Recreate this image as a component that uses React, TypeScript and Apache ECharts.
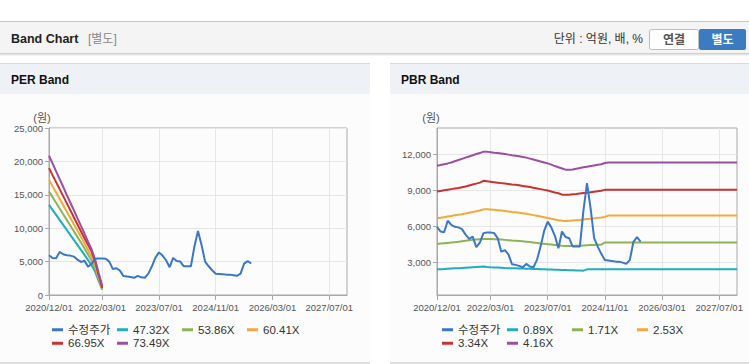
import React, { useEffect, useRef } from "react";
import * as echarts from "echarts";

// ---- categories (monthly, 2020/12 .. 2027/12) ----
const months: string[] = (() => {
  const out: string[] = [];
  let y = 2020, m = 12;
  while (y < 2027 || (y === 2027 && m <= 12)) {
    out.push(`${y}/${String(m).padStart(2, "0")}/01`);
    m++;
    if (m > 12) { m = 1; y++; }
  }
  return out;
})();

const xTickLabels = ["2020/12/01", "2022/03/01", "2023/07/01", "2024/11/01", "2026/03/01", "2027/07/01"];

// ---- adjusted price (수정주가), monthly 2020/12 .. 2025/09 ----
const price = [
  5950, 5550, 5500, 6450, 6100, 5950, 5900, 5750, 5300, 4950,
  5130, 4250, 4640, 5420, 5480, 5480, 5420, 5000, 3880, 4000,
  3650, 2830, 2780, 2700, 2580, 2860, 2640, 2580, 3200, 4300,
  5600, 6380, 5900, 5200, 4160, 5550, 5100, 5000, 4300, 4300,
  4300, 7300, 9580, 7500, 5000, 4300, 3700, 3190, 3150, 3100,
  3050, 3050, 2970, 2870, 3200, 4700, 5080, 4720,
];

// ---- PER band (2020/12 .. 2022/03) ----
const perNames = ["47.32X", "53.86X", "60.41X", "66.95X", "73.49X"];
const per4732 = [13500, 12750, 12000, 11250, 10500, 9750, 9000, 8250, 7500, 6750, 6000, 5250, 4450, 3500, 2100, 800];
const per5386 = [15500, 14650, 13800, 12950, 12100, 11250, 10400, 9550, 8700, 7850, 7000, 6050, 5150, 4000, 2400, 900];
const per6041 = [17250, 16300, 15350, 14400, 13450, 12500, 11550, 10600, 9650, 8700, 7750, 6750, 5750, 4500, 2700, 1000];
const per6695 = [19000, 17950, 16900, 15850, 14800, 13750, 12700, 11650, 10600, 9550, 8500, 7500, 6500, 5000, 3000, 1100];
const per7349 = [20850, 19700, 18500, 17350, 16200, 15000, 13850, 12700, 11500, 10350, 9200, 8000, 6850, 5300, 3300, 1350];

// ---- PBR band (2020/12 .. 2027/12) ----
const pbrNames = ["0.89X", "1.71X", "2.53X", "3.34X", "4.16X"];
const pbr089 = [
  2410, 2420, 2430, 2450, 2470, 2490, 2510, 2530, 2550, 2570,
  2590, 2610, 2630, 2640, 2600, 2580, 2570, 2560, 2540, 2520,
  2510, 2500, 2490, 2480, 2470, 2460, 2450, 2440, 2430, 2420,
  2410, 2400, 2390, 2380, 2370, 2360, 2350, 2340, 2330, 2320,
  2310, 2300, 2410, 2410, 2410, 2410, 2410, 2410, 2410, 2410,
  2410, 2410, 2410, 2410, 2410, 2410, 2410, 2410, 2410, 2410,
  2410, 2410, 2410, 2410, 2410, 2410, 2410, 2410, 2410, 2410,
  2410, 2410, 2410, 2410, 2410, 2410, 2410, 2410, 2410, 2410,
  2410, 2410, 2410, 2410, 2410,
];
const pbr171 = [
  4520, 4550, 4580, 4610, 4640, 4670, 4700, 4740, 4780, 4820,
  4860, 4890, 4920, 4940, 4940, 4930, 4920, 4910, 4890, 4860,
  4830, 4800, 4780, 4760, 4740, 4710, 4680, 4640, 4600, 4560,
  4530, 4500, 4470, 4440, 4410, 4380, 4360, 4360, 4360, 4370,
  4380, 4400, 4420, 4430, 4440, 4450, 4460, 4640, 4640, 4640,
  4640, 4640, 4640, 4640, 4640, 4640, 4640, 4640, 4640, 4640,
  4640, 4640, 4640, 4640, 4640, 4640, 4640, 4640, 4640, 4640,
  4640, 4640, 4640, 4640, 4640, 4640, 4640, 4640, 4640, 4640,
  4640, 4640, 4640, 4640, 4640,
];
const pbr253 = [
  6660, 6700, 6750, 6800, 6850, 6900, 6950, 7000, 7060, 7120,
  7180, 7240, 7300, 7400, 7400, 7380, 7360, 7330, 7300, 7260,
  7220, 7180, 7150, 7120, 7080, 7030, 6980, 6920, 6860, 6800,
  6740, 6680, 6620, 6560, 6500, 6450, 6440, 6460, 6480, 6500,
  6520, 6560, 6600, 6620, 6650, 6690, 6720, 6760, 6880, 6880,
  6880, 6880, 6880, 6880, 6880, 6880, 6880, 6880, 6880, 6880,
  6880, 6880, 6880, 6880, 6880, 6880, 6880, 6880, 6880, 6880,
  6880, 6880, 6880, 6880, 6880, 6880, 6880, 6880, 6880, 6880,
  6880, 6880, 6880, 6880, 6880,
];
const pbr334 = [
  8880, 8930, 8980, 9030, 9080, 9130, 9180, 9240, 9300, 9380,
  9460, 9540, 9620, 9770, 9740, 9700, 9660, 9620, 9580, 9540,
  9500, 9460, 9440, 9400, 9350, 9300, 9250, 9200, 9140, 9080,
  9020, 8960, 8880, 8800, 8740, 8620, 8610, 8620, 8650, 8680,
  8720, 8750, 8780, 8820, 8860, 8900, 8940, 9020, 9020, 9020,
  9020, 9020, 9020, 9020, 9020, 9020, 9020, 9020, 9020, 9020,
  9020, 9020, 9020, 9020, 9020, 9020, 9020, 9020, 9020, 9020,
  9020, 9020, 9020, 9020, 9020, 9020, 9020, 9020, 9020, 9020,
  9020, 9020, 9020, 9020, 9020,
];
const pbr416 = [
  11020, 11080, 11150, 11220, 11300, 11400, 11500, 11600, 11700, 11800,
  11900, 12000, 12080, 12200, 12200, 12150, 12100, 12080, 12050, 12000,
  11950, 11900, 11860, 11820, 11760, 11700, 11620, 11540, 11460, 11380,
  11300, 11220, 11120, 11000, 10900, 10800, 10700, 10700, 10720, 10780,
  10840, 10900, 10950, 11000, 11050, 11100, 11150, 11250, 11300, 11300,
  11300, 11300, 11300, 11300, 11300, 11300, 11300, 11300, 11300, 11300,
  11300, 11300, 11300, 11300, 11300, 11300, 11300, 11300, 11300, 11300,
  11300, 11300, 11300, 11300, 11300, 11300, 11300, 11300, 11300, 11300,
  11300, 11300, 11300, 11300, 11300,
];

const perTicks = [0, 5000, 10000, 15000, 20000, 25000];
const pbrTicks = [3000, 6000, 9000, 12000];

const PRICE_NAME = "수정주가";
const colors = {
  price: "#3a77c6",
  c1: "#1fadbf",
  c2: "#8db454",
  c3: "#f2a93b",
  c4: "#cc3131",
  c5: "#9a4f9f",
};
const bandColors = [colors.c1, colors.c2, colors.c3, colors.c4, colors.c5];

const FONT = "'Liberation Sans', Arial, 'Noto Sans CJK KR', sans-serif";

export default function App() {
  const ref = useRef<HTMLDivElement>(null);

  useEffect(() => {
    if (!ref.current) return;
    const chart = echarts.init(ref.current, undefined, { renderer: "svg" });

    const showTick = (_i: number, v: string) => xTickLabels.includes(v);
    const fmt = (v: number) => v.toLocaleString("en-US");

    const xAxisBase = (gridIndex: number) => ({
      type: "category",
      gridIndex,
      data: months,
      boundaryGap: false,
      axisLine: { lineStyle: { color: "#a8a8a8" } },
      axisTick: { interval: showTick, length: 5, lineStyle: { color: "#a8a8a8" } },
      axisLabel: {
        interval: showTick,
        margin: 8,
        color: "#555",
        fontSize: 9.5,
        fontFamily: FONT,
      },
      splitLine: { show: true, interval: showTick, lineStyle: { color: "#e6e6e6" } },
    });

    const lineSeries = (name: string, data: number[], color: string, idx: number) => ({
      name,
      type: "line",
      xAxisIndex: idx,
      yAxisIndex: idx,
      data,
      symbol: "none",
      lineStyle: { width: 2, color },
      itemStyle: { color },
      z: name === PRICE_NAME ? 5 : 3,
    });

    const perBands = [per4732, per5386, per6041, per6695, per7349];
    const pbrBands = [pbr089, pbr171, pbr253, pbr334, pbr416];

    const legendBase = (left: number, names: string[]) => ({
      left,
      top: 323,
      width: 270,
      padding: 0,
      itemGap: 0,
      itemWidth: 11,
      itemHeight: 3,
      icon: "rect",
      selectedMode: false,
      data: names,
      textStyle: {
        fontSize: 11.5,
        color: "#333",
        fontFamily: FONT,
        width: 49,
        lineHeight: 13.5,
      },
    });

    const txt = (text: string, x: number, y: number, font: string, fill: string, align = "left") => ({
      type: "text",
      x,
      y,
      style: {
        text,
        font,
        fill,
        textAlign: align,
        align,
        textVerticalAlign: "middle",
        verticalAlign: "middle",
      },
    });

    chart.setOption({
      animation: false,
      backgroundColor: "#ffffff",
      graphic: [
        // top header bar
        { type: "rect", z: -10, shape: { x: 0, y: 21, width: 749, height: 1 }, style: { fill: "#c6c6c6" } },
        { type: "rect", z: -10, shape: { x: 0, y: 22, width: 749, height: 31 }, style: { fill: "#f4f4f4" } },
        { type: "rect", z: -10, shape: { x: 0, y: 53, width: 749, height: 1 }, style: { fill: "#cfcfcf" } },
        { type: "rect", z: -10, shape: { x: 0, y: 54, width: 749, height: 1 }, style: { fill: "#e4e4e4" } },
        { type: "rect", z: -10, shape: { x: 0, y: 55, width: 749, height: 1 }, style: { fill: "#f3f3f3" } },
        txt("Band Chart", 11, 39, `bold 12.5px ${FONT}`, "#222"),
        txt("[별도]", 88, 39, `12px ${FONT}`, "#888"),
        txt("단위 : 억원, 배, %", 643, 39, `12px ${FONT}`, "#333", "right"),
        {
          type: "rect", z: -5,
          shape: { x: 649.5, y: 29.5, width: 49, height: 20, r: 2 },
          style: { fill: "#ffffff", stroke: "#bcbcbc", lineWidth: 1 },
        },
        txt("연결", 674, 39.5, `bold 12px ${FONT}`, "#555", "center"),
        {
          type: "rect", z: -5,
          shape: { x: 699, y: 29, width: 47, height: 21, r: 2 },
          style: { fill: "#3b7bc1" },
        },
        txt("별도", 722.5, 39.5, `bold 12px ${FONT}`, "#ffffff", "center"),

        // left panel
        { type: "rect", z: -10, shape: { x: 0, y: 63, width: 370, height: 299 }, style: { fill: "#fcfcfc" } },
        { type: "rect", z: -10, shape: { x: 0, y: 63, width: 370, height: 1 }, style: { fill: "#dadada" } },
        { type: "rect", z: -10, shape: { x: 0, y: 64, width: 370, height: 30 }, style: { fill: "#eef2f7" } },
        { type: "rect", z: -10, shape: { x: 0, y: 362, width: 370, height: 2 }, style: { fill: "#dddddd" } },
        txt("PER Band", 11, 80, `bold 12px ${FONT}`, "#111"),
        txt("(원)", 42, 118, `11px ${FONT}`, "#555", "center"),

        // right panel
        { type: "rect", z: -10, shape: { x: 390, y: 63, width: 359, height: 299 }, style: { fill: "#fcfcfc" } },
        { type: "rect", z: -10, shape: { x: 390, y: 63, width: 359, height: 1 }, style: { fill: "#dadada" } },
        { type: "rect", z: -10, shape: { x: 390, y: 64, width: 359, height: 30 }, style: { fill: "#eef2f7" } },
        { type: "rect", z: -10, shape: { x: 390, y: 362, width: 359, height: 2 }, style: { fill: "#dddddd" } },
        txt("PBR Band", 401, 80, `bold 12px ${FONT}`, "#111"),
        txt("(원)", 431, 118, `11px ${FONT}`, "#555", "center"),
      ],
      grid: [
        { left: 49, right: 402, top: 128, bottom: 69, show: true, borderColor: "#a8a8a8", borderWidth: 1, backgroundColor: "transparent" },
        { left: 437, right: 12, top: 128, bottom: 69, show: true, borderColor: "#a8a8a8", borderWidth: 1, backgroundColor: "transparent" },
      ],
      xAxis: [xAxisBase(0), xAxisBase(1)],
      yAxis: [
        {
          type: "value",
          gridIndex: 0,
          min: perTicks[0],
          max: perTicks[perTicks.length - 1],
          interval: 5000,
          axisLine: { show: true, lineStyle: { color: "#a8a8a8" } },
          axisTick: { show: true, length: 4, lineStyle: { color: "#a8a8a8" } },
          axisLabel: { margin: 6, color: "#555", fontSize: 9.5, fontFamily: FONT, formatter: fmt },
          splitLine: { lineStyle: { color: "#e6e6e6" } },
        },
        {
          type: "value",
          gridIndex: 1,
          min: 275,
          max: 14165,
          axisLine: { show: true, lineStyle: { color: "#a8a8a8" } },
          axisTick: { show: true, length: 4, customValues: pbrTicks, lineStyle: { color: "#a8a8a8" } },
          axisLabel: { margin: 6, color: "#555", fontSize: 9.5, fontFamily: FONT, formatter: fmt, customValues: pbrTicks },
          splitLine: { lineStyle: { color: "#e6e6e6" } },
        },
      ],
      legend: [
        legendBase(52, [PRICE_NAME, ...perNames]),
        legendBase(442, [PRICE_NAME, ...pbrNames]),
      ],
      series: [
        ...perBands.map((d, i) => lineSeries(perNames[i], d, bandColors[i], 0)),
        lineSeries(PRICE_NAME, price, colors.price, 0),
        ...pbrBands.map((d, i) => lineSeries(pbrNames[i], d, bandColors[i], 1)),
        lineSeries(PRICE_NAME, price, colors.price, 1),
      ],
    });

    return () => chart.dispose();
  }, []);

  return (
    <div
      ref={ref}
      style={{ position: "fixed", left: 0, top: 0, width: 749, height: 364 }}
    />
  );
}
